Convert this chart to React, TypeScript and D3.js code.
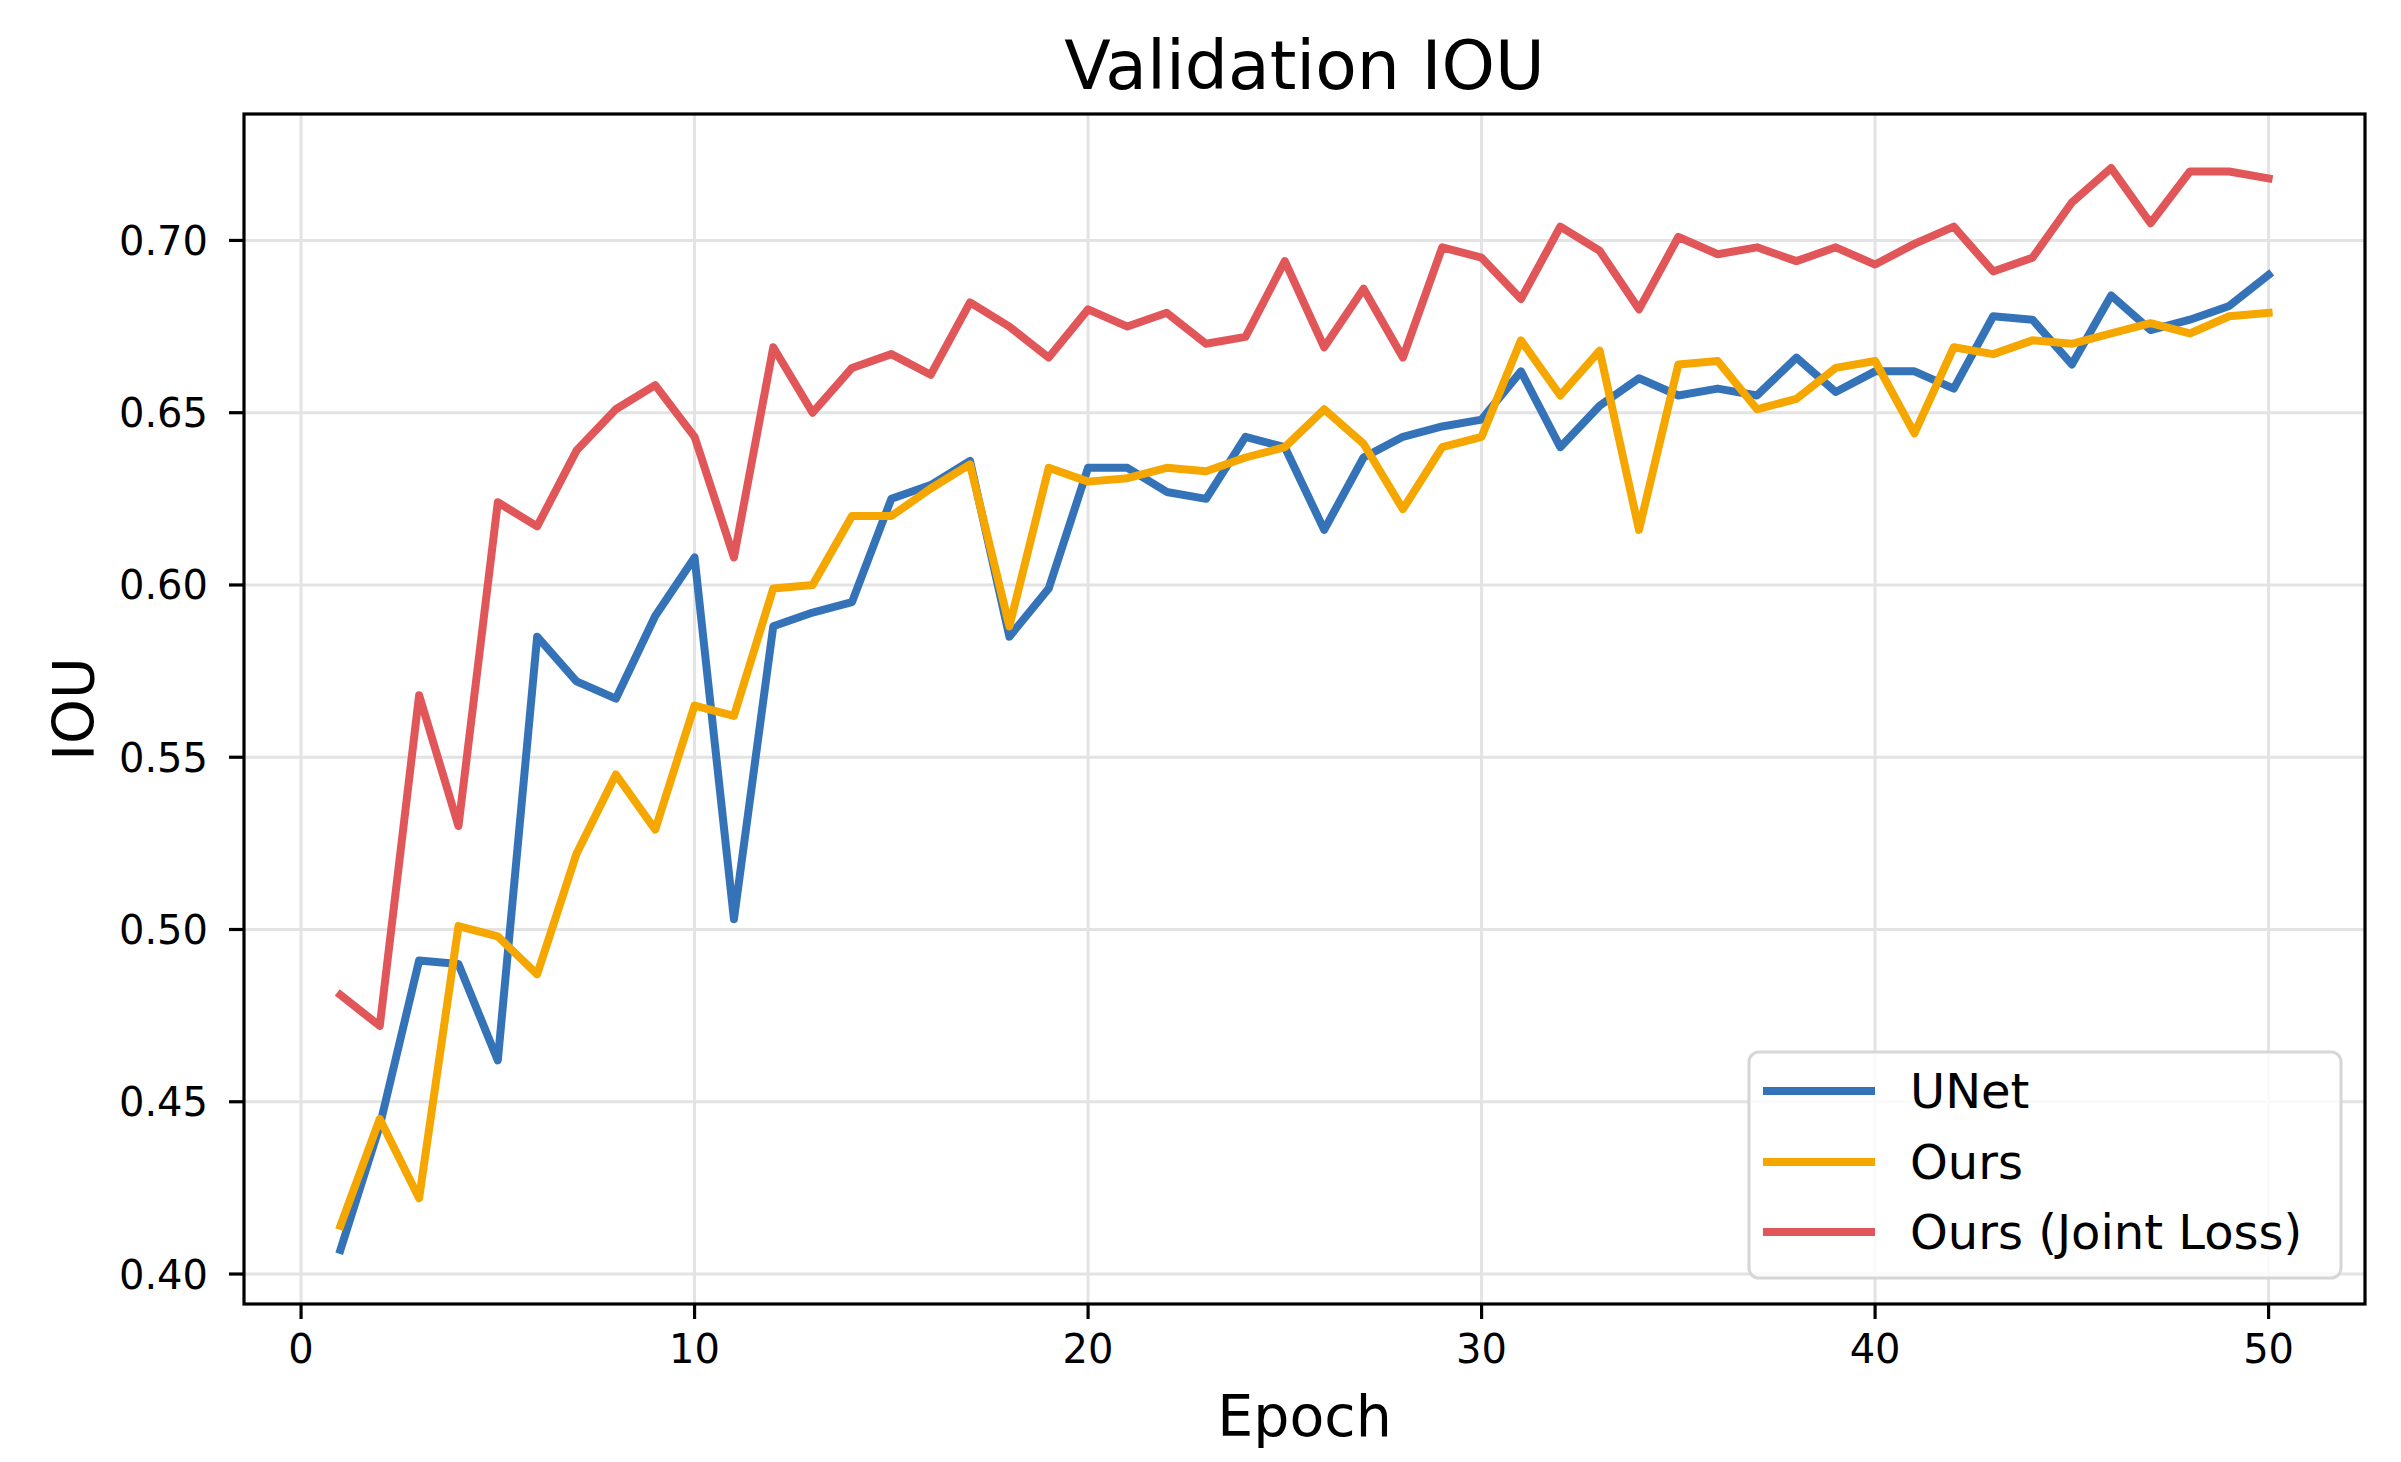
import React from 'react';
import * as d3 from 'd3';

const epochs: number[] = d3.range(1, 51);

const unet: number[] = [
  0.407, 0.443, 0.491, 0.490, 0.462, 0.585, 0.572, 0.567, 0.591, 0.608,
  0.503, 0.588, 0.592, 0.595, 0.625, 0.629, 0.636, 0.585, 0.599, 0.634,
  0.634, 0.627, 0.625, 0.643, 0.640, 0.616, 0.637, 0.643, 0.646, 0.648,
  0.662, 0.640, 0.652, 0.660, 0.655, 0.657, 0.655, 0.666, 0.656, 0.662,
  0.662, 0.657, 0.678, 0.677, 0.664, 0.684, 0.674, 0.677, 0.681, 0.690,
];

const ours: number[] = [
  0.414, 0.445, 0.422, 0.501, 0.498, 0.487, 0.522, 0.545, 0.529, 0.565,
  0.562, 0.599, 0.600, 0.620, 0.620, 0.628, 0.635, 0.588, 0.634, 0.630,
  0.631, 0.634, 0.633, 0.637, 0.640, 0.651, 0.641, 0.622, 0.640, 0.643,
  0.671, 0.655, 0.668, 0.616, 0.664, 0.665, 0.651, 0.654, 0.663, 0.665,
  0.644, 0.669, 0.667, 0.671, 0.670, 0.673, 0.676, 0.673, 0.678, 0.679,
];

const joint: number[] = [
  0.481, 0.472, 0.568, 0.530, 0.624, 0.617, 0.639, 0.651, 0.658, 0.643,
  0.608, 0.669, 0.650, 0.663, 0.667, 0.661, 0.682, 0.675, 0.666, 0.680,
  0.675, 0.679, 0.670, 0.672, 0.694, 0.669, 0.686, 0.666, 0.698, 0.695,
  0.683, 0.704, 0.697, 0.680, 0.701, 0.696, 0.698, 0.694, 0.698, 0.693,
  0.699, 0.704, 0.691, 0.695, 0.711, 0.721, 0.705, 0.720, 0.720, 0.718,
];

const seriesNames: string[] = ['UNet', 'Ours', 'Ours (Joint Loss)'];
const seriesColors: string[] = ['#3573b9', '#f5a700', '#e15759'];
const xTicks: number[] = [0, 10, 20, 30, 40, 50];
const yTicks: number[] = [0.4, 0.45, 0.5, 0.55, 0.6, 0.65, 0.7];
const titleText = 'Validation IOU';
const xLabel = 'Epoch';
const yLabel = 'IOU';

const FONT = '"DejaVu Sans", Verdana, sans-serif';

export default function App() {
  const W = 2401;
  const H = 1462;
  const L = 244, R = 2365, T = 114, B = 1304;

  const allSeries = [unet, ours, joint];
  const allVals = allSeries.flat();
  const [ymin, ymax] = d3.extent(allVals) as [number, number];
  const ypad = (ymax - ymin) * 0.05;
  const [xmin, xmax] = d3.extent(epochs) as [number, number];
  const xpad = (xmax - xmin) * 0.05;

  const x = d3.scaleLinear().domain([xmin - xpad, xmax + xpad]).range([L, R]);
  const y = d3.scaleLinear().domain([ymin - ypad, ymax + ypad]).range([B, T]);

  const line = d3
    .line<number>()
    .x((_, i) => x(epochs[i]))
    .y((d) => y(d));

  const gridColor = '#e3e3e3';
  const legX = 1749, legY = 1052, legW = 592, legH = 226;
  const rowY = [1091, 1162, 1232];

  return (
    <div style={{ position: 'absolute', left: 0, top: 0 }}>
      <svg width={W} height={H} viewBox={`0 0 ${W} ${H}`} style={{ display: 'block', background: '#fff' }}>
        <defs>
          <clipPath id="plotclip">
            <rect x={L} y={T} width={R - L} height={B - T} />
          </clipPath>
        </defs>
        <rect x={0} y={0} width={W} height={H} fill="#fff" />
        {/* grid */}
        <g>
          {xTicks.map((t) => (
            <line key={'gx' + t} x1={x(t)} x2={x(t)} y1={T} y2={B} stroke={gridColor} strokeWidth={3} />
          ))}
          {yTicks.map((t) => (
            <line key={'gy' + t} x1={L} x2={R} y1={y(t)} y2={y(t)} stroke={gridColor} strokeWidth={3} />
          ))}
        </g>
        {/* series */}
        <g clipPath="url(#plotclip)">
          {allSeries.map((s, i) => (
            <path
              key={seriesNames[i]}
              d={line(s) || ''}
              fill="none"
              stroke={seriesColors[i]}
              strokeWidth={8}
              strokeLinejoin="round"
              strokeLinecap="square"
            />
          ))}
        </g>
        {/* spines */}
        <rect x={L} y={T} width={R - L} height={B - T} fill="none" stroke="#000" strokeWidth={3.2} />
        {/* x ticks */}
        <g>
          {xTicks.map((t) => (
            <g key={'xt' + t}>
              <line x1={x(t)} x2={x(t)} y1={B} y2={B + 15} stroke="#000" strokeWidth={3.2} />
              <text x={x(t)} y={1363} textAnchor="middle" fontFamily={FONT} fontSize={40} fill="#000">
                {d3.format('d')(t)}
              </text>
            </g>
          ))}
        </g>
        {/* y ticks */}
        <g>
          {yTicks.map((t) => (
            <g key={'yt' + t}>
              <line x1={L - 15} x2={L} y1={y(t)} y2={y(t)} stroke="#000" strokeWidth={3.2} />
              <text x={208} y={y(t) + 14.5} textAnchor="end" fontFamily={FONT} fontSize={40} fill="#000">
                {d3.format('.2f')(t)}
              </text>
            </g>
          ))}
        </g>
        {/* title & labels */}
        <text x={(L + R) / 2} y={89} textAnchor="middle" fontFamily={FONT} fontSize={68} fill="#000">
          {titleText}
        </text>
        <text x={(L + R) / 2} y={1436} textAnchor="middle" fontFamily={FONT} fontSize={57} fill="#000">
          {xLabel}
        </text>
        <text
          transform={`translate(94, ${(T + B) / 2}) rotate(-90)`}
          textAnchor="middle"
          fontFamily={FONT}
          fontSize={57}
          fill="#000"
        >
          {yLabel}
        </text>
        {/* legend */}
        <g>
          <rect
            x={legX}
            y={legY}
            width={legW}
            height={legH}
            rx={10}
            ry={10}
            fill="#fff"
            fillOpacity={0.8}
            stroke="#d6d6d6"
            strokeWidth={3}
          />
          {seriesNames.map((n, i) => (
            <g key={'lg' + n}>
              <line x1={1763} x2={1875} y1={rowY[i]} y2={rowY[i]} stroke={seriesColors[i]} strokeWidth={8} />
              <text x={1910} y={rowY[i] + 17} fontFamily={FONT} fontSize={48} fill="#000">
                {n}
              </text>
            </g>
          ))}
        </g>
      </svg>
    </div>
  );
}
